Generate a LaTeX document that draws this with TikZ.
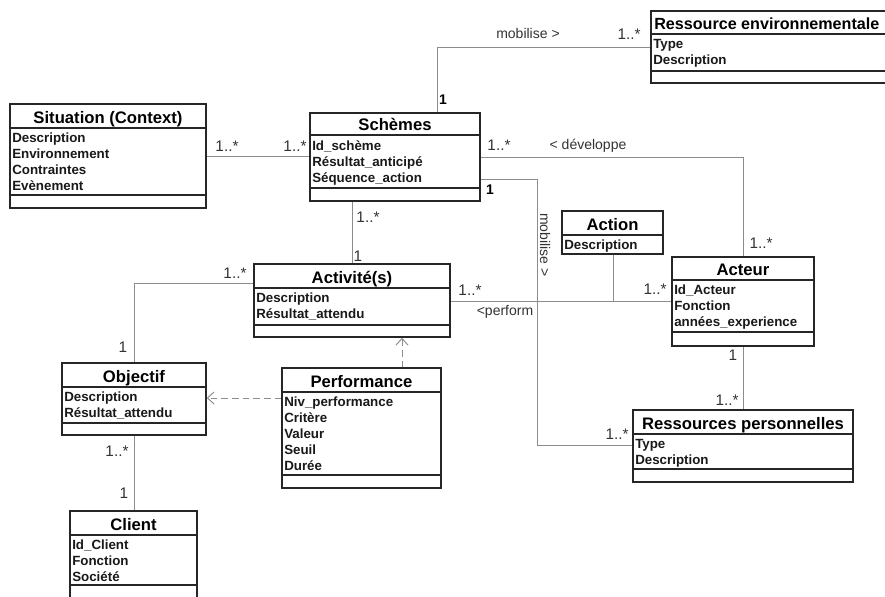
\documentclass[tikz,border=0pt]{standalone}
\usepackage{fontspec}
\setmainfont{Liberation Sans}
\usetikzlibrary{fit,arrows.meta}
\definecolor{linegray}{HTML}{8C8C8C}
\definecolor{boxline}{HTML}{262626}
\definecolor{labgray}{HTML}{333333}
\tikzset{
  clsframe/.style={draw=boxline, line width=1.1pt, inner sep=0pt},
  sepline/.style={draw=boxline, line width=0.8pt},
  clstitle/.style={font=\bfseries\fontsize{12.5}{14}\selectfont, text=black, anchor=base, inner sep=0pt},
  clsattr/.style={font=\bfseries\fontsize{10}{12}\selectfont, text=black!90, anchor=north west, align=left, inner sep=0pt},
  assoc/.style={draw=linegray, line width=0.7pt},
  depend/.style={draw=linegray, line width=0.7pt, dash pattern=on 5pt off 3pt, -{Straight Barb[length=5pt,width=9pt]}},
  mult/.style={font=\fontsize{11.5}{13}\selectfont, text=labgray, inner sep=0pt},
  multb/.style={font=\bfseries\fontsize{10.5}{12}\selectfont, text=black, inner sep=0pt},
  rolelab/.style={font=\fontsize{10.5}{12}\selectfont, text=labgray, inner sep=0pt}
}
% name, x1, y1, x2, y2, sep1, sep2, title, attributes
\newcommand\umlcls[9]{%
  \node[clsframe, fit={(#2,#3) (#4,#5)}] (#1) {};
  \draw[sepline] (#2,#6) -- (#4,#6);
  \draw[sepline] (#2,#7) -- (#4,#7);
  \node[clstitle] (#1-t) at ({(#2+#4)/2},{#6-5}) {#8};
  \node[clsattr] (#1-a) at ({#2+2},{#6+5}) {#9};
}
\begin{document}
\begin{tikzpicture}[x=0.75pt,y=-0.75pt]
\useasboundingbox (0,0) rectangle (885,596);
\clip (0,0) rectangle (885,596);
\fill[white] (0,0) rectangle (885,596);

% classes
\umlcls{renv}{651}{11}{893}{83}{34}{71}{}{Type\\Description}
\node[clstitle, anchor=base west, font=\bfseries\fontsize{12.1}{14}\selectfont] (renv-title) at (654,29) {Ressource environnementale};
\umlcls{sit}{10}{104}{206}{208}{128}{195}{Situation (Context)}{Description\\Environnement\\Contraintes\\Evènement}
\umlcls{sch}{310}{113}{480}{201}{135}{188}{Schèmes}{Id\_schème\\Résultat\_anticipé\\Séquence\_action}
\umlcls{actn}{562}{211}{663}{254}{235}{254}{Action}{Description}
\umlcls{acteur}{672}{257}{814}{346}{280}{332}{Acteur}{Id\_Acteur\\Fonction\\années\_experience}
\umlcls{activ}{254}{264}{450}{337}{288}{325}{Activité(s)}{Description\\Résultat\_attendu}
\umlcls{perf}{282}{368}{441}{488}{392}{475}{Performance}{Niv\_performance\\Critère\\Valeur\\Seuil\\Durée}
\umlcls{obj}{62}{363}{206}{435}{387}{423}{Objectif}{Description\\Résultat\_attendu}
\umlcls{rp}{633}{410}{853}{482}{434}{469}{Ressources personnelles}{Type\\Description}
\umlcls{client}{70}{511}{197}{602}{535}{585}{Client}{Id\_Client\\Fonction\\Société}

% associations
\draw[assoc] (sch.north -| 437,0) |- (renv.west);
\node[rolelab] at (528,33) {mobilise >};
\node[mult] at (629,34) {1..*};
\node[multb] at (443,100) {1};

\draw[assoc] (sit.east |- 0,156) -- (sch.west |- 0,156);
\node[mult] at (227,146) {1..*};
\node[mult] at (295,146) {1..*};

\draw[assoc] (sch.east |- 0,157) -| (acteur.north -| 743,0);
\node[mult] at (499,145) {1..*};
\node[rolelab] at (588,146) {< développe};
\node[mult] at (761,243) {1..*};

\draw[assoc] (sch.east |- 0,179) -| (537,445) -- (rp.west |- 0,445);
\node[multb] at (490,190) {1};
\node[rolelab, rotate=-90] at (545,245) {mobilise >};
\node[mult] at (617,434) {1..*};

\draw[assoc] (sch.south -| 352,0) -- (activ.north -| 352,0);
\node[mult] at (368,217) {1..*};
\node[mult] at (358,256) {1};

\draw[assoc] (activ.east |- 0,301) -- (acteur.west |- 0,301);
\node[mult] at (470,290) {1..*};
\node[rolelab] at (505,312) {<perform};
\node[mult] at (655,289) {1..*};

\draw[assoc] (actn.south -| 613,0) -- (613,301);

\draw[assoc] (activ.west |- 0,283) -| (obj.north -| 134,0);
\node[mult] at (235,273) {1..*};
\node[mult] at (123,347) {1};

\draw[depend] (perf.north -| 402,0) -- (activ.south -| 402,0);
\draw[depend] (perf.west |- 0,398) -- (obj.east |- 0,398);

\draw[assoc] (obj.south -| 134,0) -- (client.north -| 134,0);
\node[mult] at (117,451) {1..*};
\node[mult] at (124,493) {1};

\draw[assoc] (acteur.south -| 743,0) -- (rp.north -| 743,0);
\node[mult] at (733,355) {1};
\node[mult] at (727,400) {1..*};
\end{tikzpicture}
\end{document}
